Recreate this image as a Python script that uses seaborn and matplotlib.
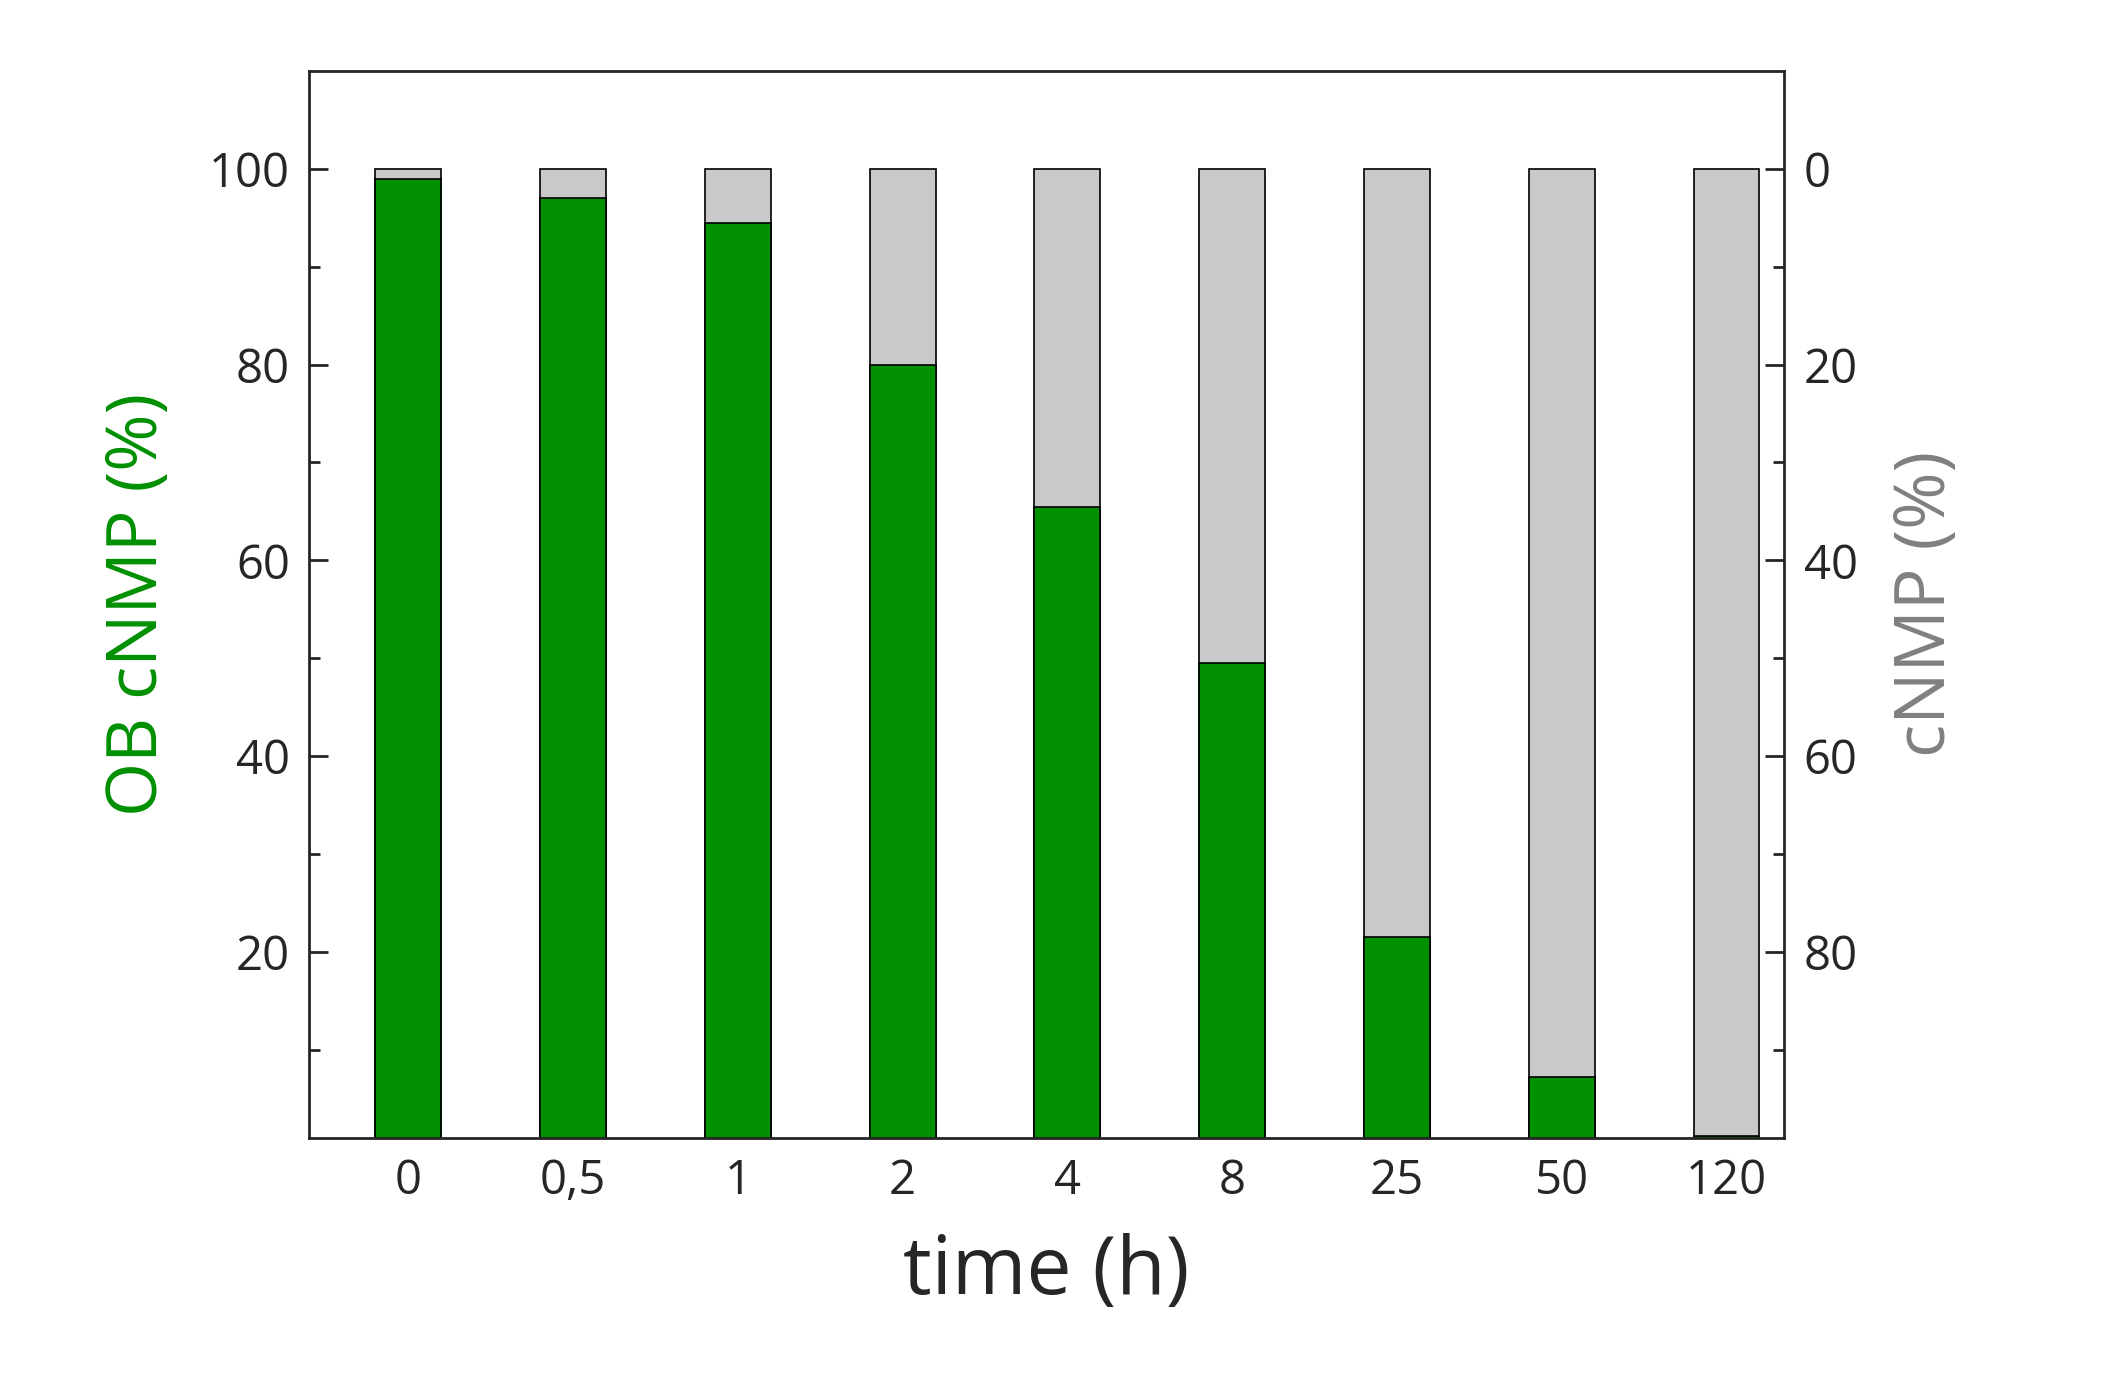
import matplotlib
matplotlib.use('Agg')
import matplotlib.pyplot as plt
import seaborn as sns
import pandas as pd

times = ['0', '0,5', '1', '2', '4', '8', '25', '50', '120']
ob_cnmp = [99, 97, 94.5, 80, 65.5, 49.5, 21.5, 7.2, 1.2]
total = [100] * len(times)

sns.set_style('ticks')
plt.rcParams['font.family'] = ['Open Sans', 'DejaVu Sans']

df = pd.DataFrame({'time': times, 'ob': ob_cnmp, 'total': total})

fig = plt.figure(figsize=(21.04, 13.91), dpi=100)
ax = fig.add_axes([0.147, 0.182, 0.701, 0.767])

sns.barplot(data=df, x='time', y='total', color='#c9c9c9', width=0.4,
            edgecolor='black', linewidth=1.2, saturation=1, ax=ax)
sns.barplot(data=df, x='time', y='ob', color='#009000', width=0.4,
            edgecolor='black', linewidth=1.2, saturation=1, ax=ax)

ax.set_ylim(1, 110)
ax.set_yticks([20, 40, 60, 80, 100])
ax.set_yticks([10, 30, 50, 70, 90], minor=True)
ax.set_xlim(-0.6, 8.35)
ax.tick_params(axis='both', direction='in', labelsize=34, length=14, width=2, pad=14)
ax.tick_params(axis='y', which='minor', direction='in', length=8, width=2)
ax.set_xlabel('time (h)', fontsize=58, labelpad=20)
ax.set_ylabel('OB cNMP (%)', fontsize=50, color='#009000', labelpad=25)
for s in ax.spines.values():
    s.set_linewidth(2)

ax2 = ax.twinx()
ax2.set_ylim(99, -10)
ax2.set_yticks([0, 20, 40, 60, 80])
ax2.set_yticks([10, 30, 50, 70, 90], minor=True)
ax2.tick_params(axis='y', direction='in', labelsize=34, length=14, width=2, pad=14)
ax2.tick_params(axis='y', which='minor', direction='in', length=8, width=2)
ax2.set_ylabel('cNMP (%)', fontsize=50, color='#808080', rotation=90, labelpad=25)

fig.savefig('out.png', dpi=100)
